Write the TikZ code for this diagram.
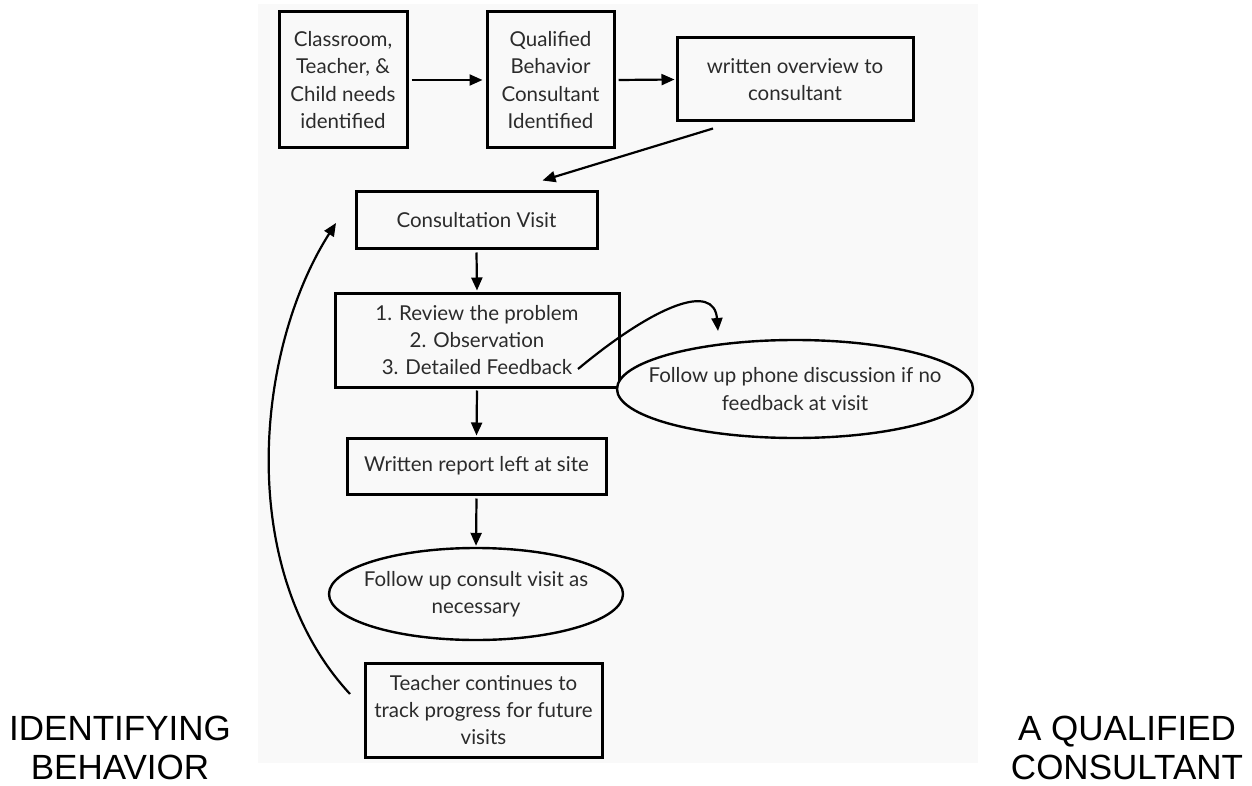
\documentclass[tikz,border=0pt]{standalone}
\usepackage{fontspec}
\setmainfont{Lato}
\newfontfamily\arialf{Liberation Sans}
\usetikzlibrary{arrows.meta,shapes.geometric}
\definecolor{panel}{HTML}{F9F9F9}
\definecolor{ink}{HTML}{2B2B2B}
\begin{document}
\begin{tikzpicture}[x=1pt,y=-1pt,
  box/.style={draw=black,line width=3pt,fill=panel,align=center,
    font=\fontsize{20.5}{27.3}\selectfont,text=ink,inner sep=0pt},
  ell/.style={ellipse,draw=black,line width=2.4pt,fill=panel,align=center,
    font=\fontsize{20.5}{27.3}\selectfont,text=ink,inner xsep=-30pt,inner ysep=-8pt},
  arr/.style={-{Triangle[length=13pt,width=11pt]},line width=2.2pt},
  big/.style={font=\arialf\fontsize{35}{39}\selectfont,align=center,text=black}]
\useasboundingbox (0,0) rectangle (1252,786);
\fill[panel] (258,4) rectangle (978,763);

\node[box,minimum width=128pt,minimum height=136pt] (n1) at (343,80)
  {Classroom,\\Teacher, \&\\Child needs\\identified};
\node[box,minimum width=127pt,minimum height=136pt] (n2) at (550.5,80)
  {Qualified\\Behavior\\Consultant\\Identified};
\node[box,minimum width=236pt,minimum height=83pt] (n3) at (795,79.5)
  {written overview to\\consultant};
\node[box,minimum width=241pt,minimum height=57pt] (cv) at (476.5,220.5)
  {Consultation Visit};
\node[box,minimum width=284pt,minimum height=94pt] (list) at (477,340)
  {1. Review the problem\\2. Observation\\3. Detailed Feedback};
\node[ell,minimum width=356pt,minimum height=98pt] (phone) at (795,389)
  {Follow up phone discussion if no\\feedback at visit};
\node[box,minimum width=259pt,minimum height=56pt] (rep) at (476.5,466)
  {Written report left at site};
\node[ell,minimum width=294pt,minimum height=92pt] (fu) at (476,594)
  {Follow up consult visit as\\necessary};
\node[box,minimum width=237pt,minimum height=94pt] (tr) at (483.5,710)
  {Teacher continues to\\track progress for future\\visits};

\node[big] (lab1) at (120,748) {IDENTIFYING\\BEHAVIOR};
\node[big] (lab2) at (1127,748) {A QUALIFIED\\CONSULTANT};

\draw[arr] ([xshift=3pt]n1.east) -- ([xshift=-3pt]n2.west);
\draw[arr] ([xshift=3pt]n2.east) -- ([xshift=-1pt]n3.west);
\draw[arr] ([xshift=-82pt,yshift=-6pt]n3.south) -- ([xshift=66pt,yshift=10pt]cv.north);
\draw[arr] ([yshift=-2pt]cv.south) -- ([yshift=1pt]list.north);
\draw[arr] ([yshift=-2pt]list.south) -- ([yshift=1pt]rep.north);
\draw[arr] ([yshift=-3pt]rep.south) -- ([yshift=1pt]fu.north);

\coordinate (fb) at (578,369);
\coordinate (fbt) at (718,331);
\draw[arr] (fb) .. controls (655,305) and (714,282) .. (fbt);

\coordinate (ts) at (350,694);
\coordinate (te) at (336,223);
\draw[arr] (ts) .. controls (235,570) and (255,350) .. (te);
\end{tikzpicture}
\end{document}
